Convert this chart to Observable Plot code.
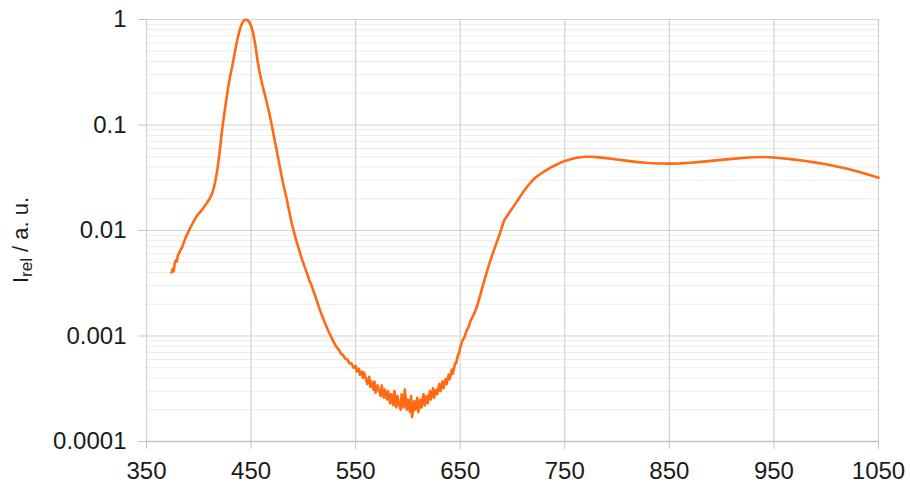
<!DOCTYPE html>
<html><head><meta charset="utf-8">
<script src="https://cdn.jsdelivr.net/npm/d3@7"></script>
<script src="https://cdn.jsdelivr.net/npm/@observablehq/plot@0.6"></script>
<style>body{margin:0;background:#fff}</style>
</head><body><div id="chart"></div>
<script>
const wavelength = [
374,375,376,377,378,379,380,382,384,386,388,390,392,394,396,398,400,402,404,406,408,410,412,414,416,418,420,422,424,426,428,430,432,434,436,438,440,442,444,446,448,450,452,454,456,458,460,462,464,466,468,470,472,474,476,478,480,482,484,486,488,490,492,494,496,498,500,502,504,506,508,510,512,514,516,518,520,522,524,526,528,530,532,534,536,538,540,542,544,546,548,
550,551,553,554,556,557,558,560,561,563,564,565,567,568,569,571,572,574,575,577,578,580,581,583,584,586,587,589,590,591,593,594,596,597,599,600,602,603,604,606,607,609,610,612,613,615,616,618,619,621,622,624,625,627,628,630,631,633,634,636,637,639,640,642,643,645,646,648,649,650,
652,654,656,658,660,663,666,669,672,675,678,681,684,687,690,692,695,698,702,706,710,714,718,722,727,732,737,742,746,750,755,760,765,770,775,780,790,800,810,820,830,840,850,860,870,880,890,900,910,920,930,940,950,960,970,980,990,1000,1010,1020,1030,1040,1050];
const intensity = [
0.0040,0.0043,0.0041,0.0049,0.0052,0.0051,0.0058,0.0064,0.0069,0.0079,0.0088,0.0097,0.0107,0.0116,0.0127,0.0137,0.0145,0.0152,0.0162,0.0173,0.0184,0.0198,0.0215,0.0245,0.030,0.039,0.056,0.085,0.120,0.165,0.225,0.290,0.360,0.460,0.590,0.720,0.850,0.945,0.995,0.995,0.955,0.870,0.745,0.580,0.420,0.320,0.260,0.215,0.180,0.148,0.122,0.097,0.077,0.061,0.048,0.038,0.030,0.0245,0.020,0.0160,0.0128,0.0106,0.0089,0.0076,0.0065,0.0056,0.0049,0.0043,0.0038,0.0033,0.0030,0.0026,0.0023,0.0020,0.00175,0.00155,0.00138,0.00124,0.00111,0.00101,0.00092,0.00084,0.00078,0.00074,0.00068,0.00066,0.00061,0.00060,0.00055,0.00055,0.00050,
0.00052,0.00046,0.00049,0.00043,0.00046,0.00040,0.00045,0.00039,0.00035,0.00041,0.00033,0.00037,0.00031,0.00037,0.00029,0.00034,0.00031,0.00027,0.00034,0.00026,0.00031,0.00025,0.00030,0.00023,0.00028,0.00022,0.00030,0.00021,0.00027,0.00024,0.00020,0.00028,0.00021,0.00031,0.00020,0.00025,0.00019,0.00027,0.00017,0.00024,0.00020,0.00026,0.00019,0.00025,0.00021,0.00028,0.00022,0.00027,0.00023,0.00030,0.00025,0.00032,0.00026,0.00031,0.00028,0.00035,0.00030,0.00037,0.00032,0.00039,0.00035,0.00043,0.00039,0.00048,0.00044,0.00055,0.00055,0.00067,0.00069,0.00078,
0.00090,0.00097,0.00112,0.00122,0.00140,0.00160,0.00190,0.00240,0.00310,0.00390,0.00490,0.00600,0.00730,0.00880,0.0108,0.0125,0.0138,0.0153,0.0175,0.0200,0.0230,0.0260,0.0290,0.0318,0.0345,0.0372,0.0398,0.0420,0.0440,0.0455,0.0472,0.0486,0.0495,0.0500,0.0500,0.0496,0.0485,0.0471,0.0457,0.0445,0.0436,0.0431,0.0430,0.0433,0.0439,0.0447,0.0457,0.0467,0.0477,0.0487,0.0495,0.0498,0.0492,0.0482,0.0470,0.0456,0.0440,0.0424,0.0405,0.0385,0.0363,0.0340,0.0316];

const xTicks = [350,450,550,650,750,850,950,1050];
const yTicks = [0.0001,0.001,0.01,0.1,1];
const yTickLabels = ["0.0001","0.001","0.01","0.1","1"];
const minorMultipliers = [2,3,4,5,6,7,8,9];
const yMinor = yTicks.slice(0,-1).flatMap(d => minorMultipliers.map(m => d*m));

const data = wavelength.map((w,i) => ({w, v: intensity[i]}));
const FONT = "'Liberation Sans', Arial, sans-serif";

const chart = Plot.plot({
  width: 910, height: 486,
  marginLeft: 146, marginRight: 32, marginTop: 19, marginBottom: 45,
  style: {fontFamily: FONT, fontSize: "24px", background: "#fff", color: "#1a1a1a"},
  x: {domain: [350,1050], label: null},
  y: {type: "log", domain: [0.0001, 1], label: null},
  marks: [
    Plot.ruleY(yMinor, {stroke: "#ebebeb", strokeWidth: 1}),
    Plot.ruleY(yTicks, {stroke: "#d2d2d2", strokeWidth: 1.2}),
    Plot.ruleX(xTicks, {stroke: "#d2d2d2", strokeWidth: 1.2}),
    Plot.ruleY([0.0001], {stroke: "#c4c4c4", strokeWidth: 1.5}),
    Plot.axisX({ticks: xTicks, tickFormat: d => String(d), tickSize: 8, tickPadding: 12, stroke: "#c4c4c4", fill: "#1a1a1a", fontSize: 24, label: null}),
    Plot.axisY({ticks: yTicks, tickFormat: d => yTickLabels[yTicks.indexOf(d)], tickSize: 8, tickPadding: 12, stroke: "#c4c4c4", fill: "#1a1a1a", fontSize: 24, label: null}),
    Plot.line(data, {x: "w", y: "v", stroke: "#ff6a13", strokeWidth: 2.6, strokeLinejoin: "round"})
  ]
});

const svg = d3.select(chart);
const lab = svg.append("text")
  .attr("transform", "translate(28,240) rotate(-90)")
  .attr("text-anchor", "middle")
  .attr("font-family", FONT)
  .attr("font-size", 22)
  .attr("fill", "#1a1a1a");
lab.append("tspan").text("I");
lab.append("tspan").attr("font-size", 17).attr("dy", 4).text("rel");
lab.append("tspan").attr("dy", -4).text(" / a. u.");

document.getElementById("chart").appendChild(chart);
</script>
</body></html>
